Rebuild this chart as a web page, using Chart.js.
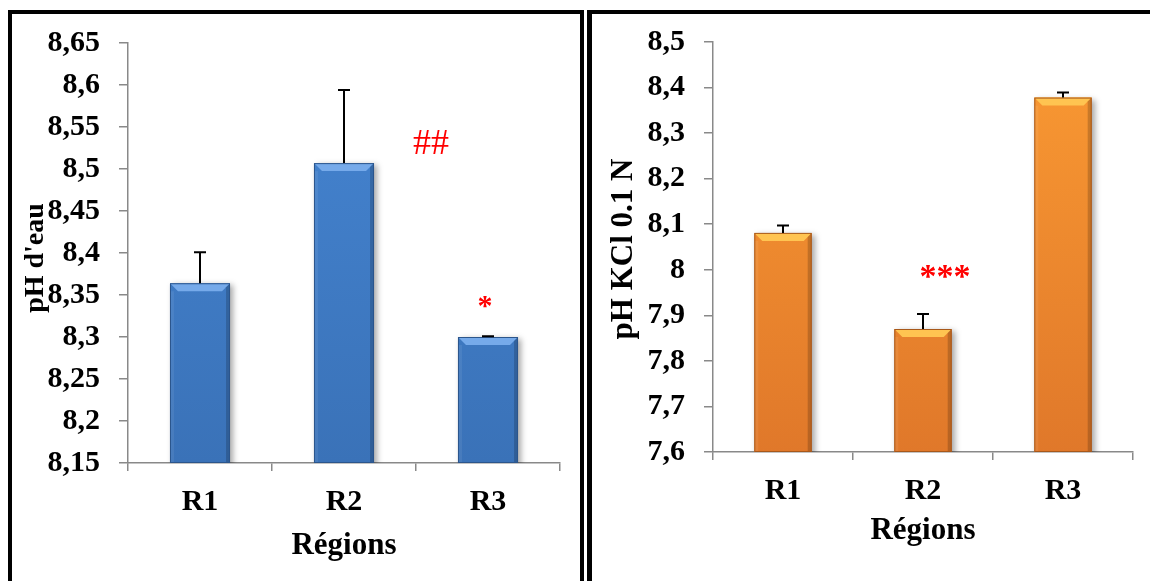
<!DOCTYPE html>
<html lang="fr">
<head>
  <meta charset="UTF-8">
  <title>pH des sols par région</title>
  <script src="https://cdn.jsdelivr.net/npm/chart.js"></script>
  <style>
    html, body { margin: 0; padding: 0; background: #fff; overflow: hidden; }
    body { width: 1150px; height: 581px; position: relative; }
    .panel { position: absolute; border: 4px solid #000; border-bottom: none; box-sizing: border-box; }
    #p1 { left: 8px; top: 10px; width: 576px; height: 620px; }
    #p2 { left: 587px; top: 10px; width: 620px; height: 620px; border-left-width: 5px; }
    canvas { position: absolute; }
    #c1 { left: 12px; top: 14px; }
    #c2 { left: 592px; top: 13px; }
  </style>
</head>
<body>
  <div class="panel" id="p1"></div>
  <div class="panel" id="p2"></div>
  <canvas id="c1" width="567" height="567"></canvas>
  <canvas id="c2" width="558" height="568"></canvas>

  <script>
    const regions = ['R1', 'R2', 'R3'];

    // pH eau
    const phEau = [8.364, 8.507, 8.300];
    const phEauErr = [0.037, 0.087, 0.001];
    const eauMarks = ['', '##', '*'];
    const eauMarkY = [null, 8.529, 8.336];

    // pH KCl 0.1 N
    const phKcl = [8.081, 7.870, 8.378];
    const phKclErr = [0.016, 0.033, 0.011];
    const kclMarks = ['', '***', ''];
    const kclMarkY = [null, 7.982, null];

    const SERIF = '"Liberation Serif", "Times New Roman", serif';

    const fmt = v => (Math.round(v * 100) / 100).toString().replace('.', ',');

    // ombre, biseau, barres d'erreur, étoiles, titre vertical
    const decor = {
      id: 'decor',
      beforeDatasetsDraw(chart) {
        const ctx = chart.ctx;
        ctx.save();
        ctx.shadowColor = 'rgba(0,0,0,0.35)';
        ctx.shadowBlur = 6;
        ctx.shadowOffsetX = 3;
        ctx.shadowOffsetY = 2;
      },
      afterDatasetsDraw(chart, args, o) {
        const ctx = chart.ctx;
        ctx.restore();
        const area = chart.chartArea;
        const meta = chart.getDatasetMeta(0);
        const ys = chart.scales.y;
        const xs = chart.scales.x;
        const vals = chart.data.datasets[0].data;

        meta.data.forEach((el, i) => {
          const l = el.x - el.width / 2, r = el.x + el.width / 2;
          const t = el.y, b = Math.min(el.base, area.bottom), k = 8;
          ctx.save();
          ctx.fillStyle = o.bevel;
          ctx.beginPath();
          ctx.moveTo(l, t); ctx.lineTo(r, t); ctx.lineTo(r - k, t + k); ctx.lineTo(l + k, t + k);
          ctx.closePath(); ctx.fill();
          ctx.fillStyle = 'rgba(0,0,0,0.18)';
          ctx.beginPath();
          ctx.moveTo(r, t); ctx.lineTo(r, b); ctx.lineTo(r - 4, b); ctx.lineTo(r - 4, t + 4);
          ctx.closePath(); ctx.fill();
          ctx.fillStyle = 'rgba(255,255,255,0.07)';
          ctx.fillRect(l, t + k, 4, b - t - k);
          ctx.strokeStyle = o.edge;
          ctx.lineWidth = 1;
          ctx.strokeRect(l + 0.5, t + 0.5, el.width - 1, b - t - 1);
          ctx.restore();

          // barre d'erreur (vers le haut)
          const yTop = ys.getPixelForValue(vals[i] + o.err[i]);
          ctx.save();
          ctx.strokeStyle = '#000';
          ctx.lineWidth = 2;
          ctx.beginPath();
          ctx.moveTo(el.x, t);
          ctx.lineTo(el.x, yTop);
          ctx.moveTo(el.x - 6, yTop);
          ctx.lineTo(el.x + 6, yTop);
          ctx.stroke();
          ctx.restore();
        });

        // signes de signification
        ctx.save();
        ctx.fillStyle = '#ff0000';
        ctx.textAlign = 'center';
        ctx.textBaseline = 'middle';
        o.marks.forEach((m, i) => {
          if (!m) return;
          const x = xs.getPixelForValue(i) + o.markDx[i];
          const y = ys.getPixelForValue(o.markY[i]);
          ctx.font = o.markFont[i];
          ctx.fillText(m, x, y);
        });
        ctx.restore();

        // titre de l'axe vertical
        ctx.save();
        ctx.translate(o.titleX, o.titleY);
        ctx.rotate(-Math.PI / 2);
        ctx.fillStyle = '#000';
        ctx.font = 'bold ' + o.titleSize + 'px ' + SERIF;
        ctx.textAlign = 'center';
        ctx.textBaseline = 'middle';
        ctx.fillText(o.title, 0, 0);
        ctx.restore();
      }
    };

    function makeChart(id, values, cfg) {
      const ctx = document.getElementById(id).getContext('2d');
      return new Chart(ctx, {
        type: 'bar',
        data: {
          labels: regions,
          datasets: [{
            data: values,
            backgroundColor: c => {
              const area = c.chart.chartArea;
              if (!area) return cfg.colors[0];
              const g = c.chart.ctx.createLinearGradient(0, area.top, 0, area.bottom);
              g.addColorStop(0, cfg.colors[0]);
              g.addColorStop(1, cfg.colors[1]);
              return g;
            },
            borderWidth: 0,
            barPercentage: cfg.barPct,
            categoryPercentage: 1
          }]
        },
        options: {
          responsive: false,
          animation: false,
          layout: { padding: { top: 29, right: cfg.padRight, left: 0, bottom: 0 } },
          plugins: {
            legend: { display: false },
            tooltip: { enabled: false },
            decor: {
              err: cfg.err, bevel: cfg.bevel, edge: cfg.edge,
              marks: cfg.marks, markY: cfg.markY, markDx: cfg.markDx, markFont: cfg.markFont,
              title: cfg.title, titleX: cfg.titleX, titleY: cfg.titleY, titleSize: cfg.titleSize
            }
          },
          scales: {
            x: {
              afterFit: s => { s.height = cfg.xHeight; },
              grid: { drawOnChartArea: false, tickLength: 8, color: '#898989', lineWidth: 1.5 },
              border: { color: '#898989', width: 1.5 },
              ticks: { color: '#000', padding: 13, font: { family: SERIF, size: 30, weight: 'bold' } },
              title: {
                display: true, text: 'Régions', color: '#000',
                font: { family: SERIF, size: 31, weight: 'bold' },
                padding: { top: 0, bottom: cfg.titlePad }
              }
            },
            y: {
              min: cfg.min, max: cfg.max,
              afterFit: s => { s.width = cfg.yWidth; s.paddingTop = 0; s.paddingBottom = 0; },
              grid: { drawOnChartArea: false, tickLength: 9, color: '#898989', lineWidth: 1.5 },
              border: { color: '#898989', width: 1.5 },
              ticks: {
                stepSize: cfg.step, color: '#000', padding: 19,
                font: { family: SERIF, size: 30, weight: 'bold' },
                callback: v => fmt(v)
              }
            }
          }
        },
        plugins: [decor]
      });
    }

    makeChart('c1', phEau, {
      min: 8.15, max: 8.65, step: 0.05,
      err: phEauErr,
      colors: ['#4585d2', '#3a72b8'], bevel: '#76aaea', edge: '#2c568c',
      barPct: 0.417, padRight: 19, xHeight: 118, yWidth: 116, titlePad: 16,
      marks: eauMarks, markY: eauMarkY, markDx: [0, 87, -3],
      markFont: ['', '36px ' + SERIF, 'bold 30px ' + SERIF],
      title: "pH d'eau", titleX: 24, titleY: 244, titleSize: 28
    });

    makeChart('c2', phKcl, {
      min: 7.6, max: 8.5, step: 0.1,
      err: phKclErr,
      colors: ['#fa9a33', '#e0782a'], bevel: '#ffc451', edge: '#a8581a',
      barPct: 0.41, padRight: 17, xHeight: 129, yWidth: 121, titlePad: 31,
      marks: kclMarks, markY: kclMarkY, markDx: [0, 22, 0],
      markFont: ['', 'bold 34px ' + SERIF, ''],
      title: 'pH KCl 0.1 N', titleX: 32, titleY: 236, titleSize: 31
    });
  </script>
</body>
</html>
